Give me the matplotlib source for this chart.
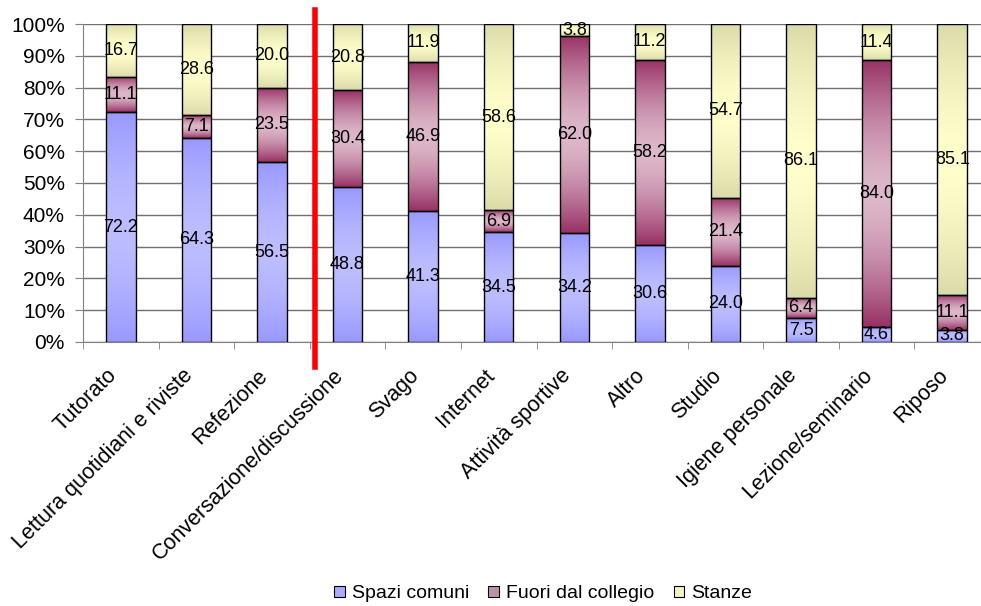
import numpy as np
import matplotlib.pyplot as plt
from matplotlib.colors import to_rgb
from matplotlib.patches import Patch
from matplotlib.transforms import ScaledTranslation

plt.rcParams['font.family'] = ['Liberation Sans', 'DejaVu Sans']

categories = ["Tutorato", "Lettura quotidiani e riviste", "Refezione",
              "Conversazione/discussione", "Svago", "Internet",
              "Attività sportive", "Altro", "Studio", "Igiene personale",
              "Lezione/seminario", "Riposo"]
spazi_comuni = [72.2, 64.3, 56.5, 48.8, 41.3, 34.5, 34.2, 30.6, 24.0, 7.5, 4.6, 3.8]
fuori_collegio = [11.1, 7.1, 23.5, 30.4, 46.9, 6.9, 62.0, 58.2, 21.4, 6.4, 84.0, 11.1]
stanze = [16.7, 28.6, 20.0, 20.8, 11.9, 58.6, 3.8, 11.2, 54.7, 86.1, 11.4, 85.1]
series_names = ["Spazi comuni", "Fuori dal collegio", "Stanze"]

# (edge colour, centre colour) of each vertical gradient
shades = [("#9999ff", "#bdbdff"), ("#993366", "#ddb8ca"), ("#dcdcaa", "#ffffcc")]


def gradient(edge, centre, n=64):
    e, c = np.array(to_rgb(edge)), np.array(to_rgb(centre))
    t = np.linspace(-1, 1, n)
    w = (np.abs(t) ** 1.6)[:, None]
    return (c * (1 - w) + e * w)[:, None, :]


fig = plt.figure(figsize=(9.81, 6.06), dpi=100)
ax = fig.add_axes([83 / 981, 1 - 342 / 606, 907 / 981, 318 / 606])

x = np.arange(len(categories))
bottom = np.zeros(len(categories))
for vals, (edge, centre) in zip([spazi_comuni, fuori_collegio, stanze], shades):
    vals = np.array(vals)
    bars = ax.bar(x, vals, 0.39, bottom=bottom, facecolor="none",
                  edgecolor="black", linewidth=1.0, zorder=3)
    img = gradient(edge, centre)
    for b, v in zip(bars, vals):
        ax.imshow(img, extent=(b.get_x(), b.get_x() + b.get_width(),
                               b.get_y(), b.get_y() + b.get_height()),
                  aspect="auto", origin="lower", zorder=2, interpolation="bilinear")
        ax.text(b.get_x() + b.get_width() / 2, b.get_y() + b.get_height() / 2,
                f"{v:.1f}", ha="center", va="center", fontsize=13, zorder=4)
    bottom += vals

ax.set_xlim(-0.5, 11.5)
ax.set_ylim(0, 100)
ax.set_yticks(np.arange(0, 101, 10))
ax.set_yticklabels([f"{v}%" for v in range(0, 101, 10)], fontsize=15)
ax.yaxis.grid(True, color="#707070", linewidth=1.0, zorder=0)
ax.set_axisbelow(True)

ax.set_xticks(x)
ax.set_xticklabels(categories, rotation=45, ha="right", va="center",
                   rotation_mode="anchor", fontsize=15.5)
ax.tick_params(axis="x", which="major", length=0, pad=22)
shift = ScaledTranslation(-0.07, 0, fig.dpi_scale_trans)
for lbl in ax.get_xticklabels():
    lbl.set_transform(lbl.get_transform() + shift)
ax.set_xticks(np.arange(-0.5, 11.6, 1), minor=True)
ax.tick_params(axis="x", which="minor", length=5, color="#808080")
ax.tick_params(axis="y", length=6, color="#808080", pad=7)

for s in ["top", "right"]:
    ax.spines[s].set_visible(False)
for s in ["left", "bottom"]:
    ax.spines[s].set_color("#808080")

# separator between the first three activities and the rest
ax.plot([2.57, 2.57], [-0.08, 1.043], color="red", linewidth=4,
        transform=ax.get_xaxis_transform(), clip_on=False, zorder=5)

handles = [Patch(facecolor=c, edgecolor="black", linewidth=0.8) for c in
           ["#aaaaff", "#c090a8", "#f4f4c0"]]
fig.legend(handles, series_names, loc="center", bbox_to_anchor=(543 / 981, 1 - 594 / 606),
           ncol=3, frameon=False, fontsize=14, handlelength=0.55, handleheight=0.55,
           handletextpad=0.35, columnspacing=1.0, borderpad=0.1)

fig.savefig("out.png", dpi=100)
